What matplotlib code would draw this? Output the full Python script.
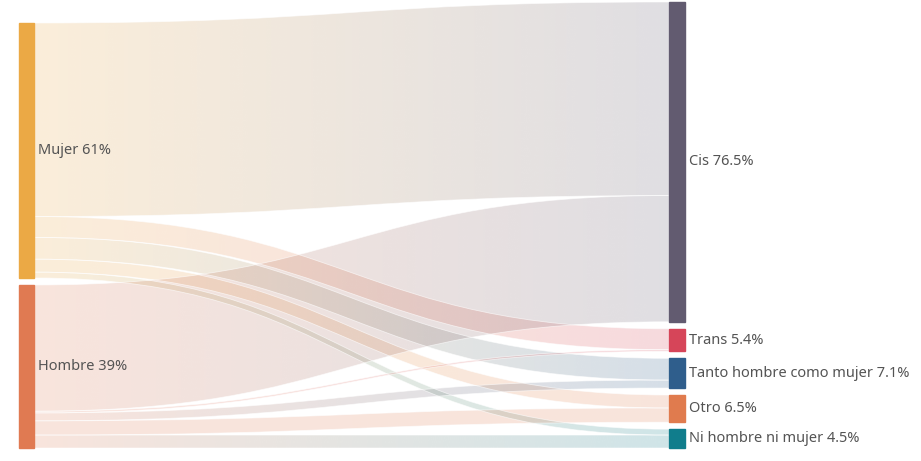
import numpy as np
import matplotlib.pyplot as plt
from matplotlib.path import Path
from matplotlib.patches import PathPatch, Rectangle
from matplotlib.colors import to_rgb

# data (percent)
sources = ['Mujer', 'Hombre']
source_pct = [61, 39]
source_colors = ['#EBA945', '#E07A52']

targets = ['Cis', 'Trans', 'Tanto hombre como mujer', 'Otro', 'Ni hombre ni mujer']
target_pct = [76.5, 5.4, 7.1, 6.5, 4.5]
target_colors = ['#625B70', '#D64559', '#2F5E8C', '#E07B4E', '#107D8C']

mujer_to = [46.3, 5.0, 5.2, 3.1, 1.4]
hombre_to = [30.2, 0.4, 1.9, 3.4, 3.1]
flows = [mujer_to, hombre_to]

W, H = 921, 461
fig = plt.figure(figsize=(9.21, 4.61), dpi=100)
ax = fig.add_axes([0, 0, 1, 1])

k = 4.18       # px per percent
gap = 7
bottom = 448
xl0, xl1 = 19, 34
xr0, xr1 = 669, 685
alpha = 0.2


def stack(vals):
    top = bottom - k * sum(vals) - gap * (len(vals) - 1)
    ys = []
    y = top
    for v in vals:
        ys.append(y)
        y += v * k + gap
    return ys


src_y = stack(source_pct)
tgt_y = stack(target_pct)


def draw_link(y0, y1, h, c0, c1):
    xm = (xl1 + xr0) / 2
    verts = [(xl1, y0), (xm, y0), (xm, y1), (xr0, y1),
             (xr0, y1 + h), (xm, y1 + h), (xm, y0 + h), (xl1, y0 + h),
             (xl1, y0)]
    codes = [Path.MOVETO, Path.CURVE4, Path.CURVE4, Path.CURVE4,
             Path.LINETO, Path.CURVE4, Path.CURVE4, Path.CURVE4,
             Path.CLOSEPOLY]
    path = Path(verts, codes)
    patch = PathPatch(path, facecolor='none', edgecolor='none')
    ax.add_patch(patch)
    g = np.linspace(0, 1, 256)[:, None]
    rgba = np.zeros((1, 256, 4))
    rgba[0, :, :3] = (1 - g) * np.array(to_rgb(c0)) + g * np.array(to_rgb(c1))
    rgba[0, :, 3] = alpha
    im = ax.imshow(rgba, extent=(xl1, xr0, max(y0, y1) + h, min(y0, y1)),
                   aspect='auto', interpolation='bilinear', zorder=1)
    im.set_clip_path(patch)
    ax.add_patch(PathPatch(path, facecolor='none', edgecolor='white',
                           lw=0.6, alpha=0.6, zorder=2))


src_off = list(src_y)
tgt_off = list(tgt_y)
for i, row in enumerate(flows):
    for j, v in enumerate(row):
        h = v * k
        draw_link(src_off[i], tgt_off[j], h, source_colors[i], target_colors[j])
        src_off[i] += h
        tgt_off[j] += h

lab_kw = dict(va='center', ha='left', fontsize=10.5, color='#545454', family='Noto Sans')

for name, pct, y, c in zip(sources, source_pct, src_y, source_colors):
    ax.add_patch(Rectangle((xl0, y), xl1 - xl0, pct * k, color=c, zorder=3))
    ax.text(xl1 + 4, y + pct * k / 2, f'{name} {pct:g}%', zorder=4, **lab_kw)

for name, pct, y, c in zip(targets, target_pct, tgt_y, target_colors):
    ax.add_patch(Rectangle((xr0, y), xr1 - xr0, pct * k, color=c, zorder=3))
    ax.text(xr1 + 4, y + pct * k / 2, f'{name} {pct:g}%', zorder=4, **lab_kw)

ax.set_xlim(0, W)
ax.set_ylim(H, 0)
ax.axis('off')
fig.savefig('out.png', dpi=100, facecolor='white')
